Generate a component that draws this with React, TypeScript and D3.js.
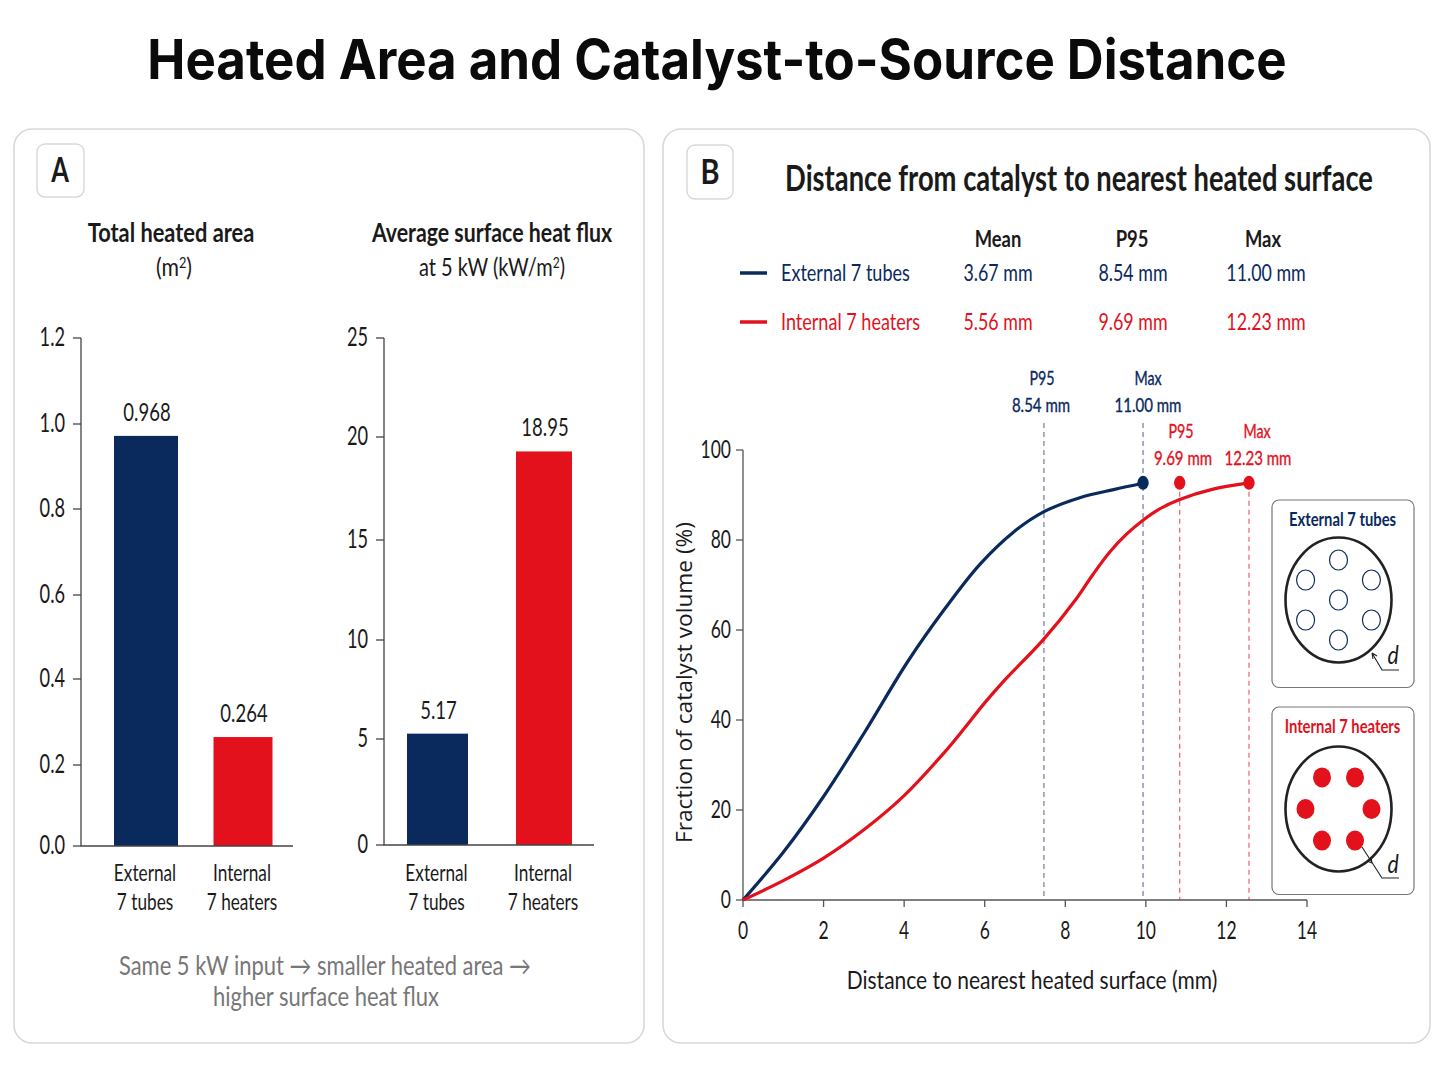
import * as d3 from "d3"

const NAVY = "#0a2a5e"
const RED = "#e2111b"
const INK = "#1a1a1a"
const FONT = "Lato, sans-serif"

// panel A
const barLabels = [["External", "7 tubes"], ["Internal", "7 heaters"]]
// heights as drawn in the picture, the printed numbers are in the *Text arrays
const areaValues = [0.972, 0.265]
const areaText = ["0.968", "0.264"]
const areaTicks = [0, 0.2, 0.4, 0.6, 0.8, 1.0, 1.2]
const fluxValues = [5.27, 19.3]
const fluxText = ["5.17", "18.95"]
const fluxTicks = [0, 5, 10, 15, 20, 25]
const barColors = [NAVY, RED]

// panel B
const summaryHeads = ["Mean", "P95", "Max"]
const externalSummary = ["3.67 mm", "8.54 mm", "11.00 mm"]
const internalSummary = ["5.56 mm", "9.69 mm", "12.23 mm"]
const xTicks = [0, 2, 4, 6, 8, 10, 12, 14]
const yTicks = [0, 20, 40, 60, 80, 100]
const externalCurve: [number, number][] = [
  [0, 0], [1, 10.6], [2, 23], [3, 37], [4.09, 53], [5.0, 64.6], [5.88, 74.6], [6.72, 81.8], [7.45, 86.2], [8.36, 89.4], [9.2, 91.2], [9.93, 92.6],
]
const internalCurve: [number, number][] = [
  [0, 0], [1, 4.3], [2, 9.3], [3, 15.6], [4, 23.2], [5, 32.8], [5.5, 38.2], [6, 43.8], [6.5, 48.9], [7.45, 57.8], [8.28, 67], [8.69, 72.4], [9.11, 77.4],
  [9.52, 81.3], [9.93, 84.4], [10.3, 86.7], [10.84, 89], [11.67, 91.3], [12.56, 92.7],
]
const externalMarkers = [
  { x: 7.47, top: 106, dot: false, head: "P95", text: "8.54 mm" },
  { x: 9.93, top: 106, dot: true, head: "Max", text: "11.00 mm" },
]
const internalMarkers = [
  { x: 10.84, top: 92.7, dot: true, head: "P95", text: "9.69 mm" },
  { x: 12.56, top: 92.7, dot: true, head: "Max", text: "12.23 mm" },
]
const tubeAngles = [90, 30, -30, -90, -150, 150]
const heaterAngles = [60, 0, -60, -120, 180, 120]

// condensed looking text, Lato squeezed horizontally
function T({ x, y, size, children, fill = INK, weight = 400, anchor = "middle", sx = 0.75, style, bold }: any) {
  return (
    <text transform={`translate(${x},${y}) scale(${sx},1)`} fontFamily={FONT} fontSize={size} fontWeight={weight}
      fill={fill} textAnchor={anchor} stroke={bold ? fill : "none"} strokeWidth={bold ? 0.35 : 0} style={style}>
      {children}
    </text>
  )
}

function BarChart({ axisX, endX, y, ticks, tickFormat, values, text, centers, widths, labelGap }: any) {
  const base = y(0)
  return (
    <g>
      {values.map((v: number, i: number) => (
        <g key={i}>
          <rect x={centers[i] - widths[i] / 2} y={y(v)} width={widths[i]} height={base - y(v)} fill={barColors[i]} />
          <T x={centers[i] + 1} y={y(v) - labelGap} size={25} sx={0.74}>{text[i]}</T>
          <T x={centers[i] - 1} y={881} size={23}>{barLabels[i][0]}</T>
          <T x={centers[i] - 1} y={910} size={23}>{barLabels[i][1]}</T>
        </g>
      ))}
      <path d={`M${axisX},${y.range()[y.range().length - 1]}V${base}H${endX}`} fill="none" stroke="#444" strokeWidth={1.3} />
      {ticks.map((t: number) => (
        <g key={t}>
          <line x1={axisX - 8} x2={axisX} y1={y(t)} y2={y(t)} stroke="#444" strokeWidth={1.3} />
          <T x={axisX - 16} y={y(t) + 8} size={26} anchor="end" sx={0.7}>{tickFormat(t)}</T>
        </g>
      ))}
    </g>
  )
}

function Inset({ y, cy, title, color, angles, radiusX, radiusY, filled, center, leader, dY }: any) {
  const cx = 1338.5
  return (
    <g>
      <rect x={1272} y={y} width={142} height={187.5} rx={7} fill="#fff" stroke="#777" strokeWidth={1.2} />
      <T x={1342.5} y={y + 26} size={19} weight={700} fill={color} sx={0.78}>{title}</T>
      <ellipse cx={cx} cy={cy} rx={53} ry={62.5} fill="none" stroke="#222" strokeWidth={2.6} />
      {center && <ellipse cx={cx} cy={cy} rx={9} ry={10} fill="#fff" stroke={NAVY} strokeWidth={1.2} />}
      {angles.map((a: number) => {
        const rad = (a * Math.PI) / 180
        return (
          <ellipse key={a} cx={cx + radiusX * Math.cos(rad)} cy={cy - radiusY * Math.sin(rad)} rx={9} ry={10}
            fill={filled ? RED : "#fff"} stroke={filled ? "none" : NAVY} strokeWidth={1.2} />
        )
      })}
      <path d={leader} fill="none" stroke="#222" strokeWidth={1.1} />
      <T x={1393} y={dY} size={25} sx={0.85} style={{ fontStyle: "italic" }}>d</T>
    </g>
  )
}

export default function App() {
  const areaY = d3.scaleLinear().domain(areaTicks).range([846, 765, 679, 595, 509, 424, 338])
  const fluxY = d3.scaleLinear().domain(fluxTicks).range([845, 739, 640, 540, 437, 338])
  const x = d3.scaleLinear().domain([0, 14]).range([743, 1307])
  const y = d3.scaleLinear().domain([0, 100]).range([900, 450])
  const line = d3.line<[number, number]>().x((d) => x(d[0])).y((d) => y(d[1])).curve(d3.curveCatmullRom.alpha(0.5))

  return (
    <svg width={1448} height={1086} style={{ position: "absolute", left: 0, top: 0, background: "#fff" }}>
      <text transform="translate(717,79) scale(0.927,1)" textAnchor="middle" fontFamily="Inter, sans-serif" fontWeight={700} fontSize={55} fill="#0a0a0a">
        Heated Area and Catalyst-to-Source Distance
      </text>

      {/* panel A */}
      <rect x={14} y={129} width={630} height={914} rx={18} fill="#fff" stroke="#d6d9dc" strokeWidth={1.6} />
      <rect x={37} y={144} width={47} height={53} rx={8} fill="#fff" stroke="#d6d9dc" strokeWidth={1.4} />
      <T x={60} y={182} size={34} weight={700} sx={0.75}>A</T>

      <T x={171} y={242} size={26} weight={700} sx={0.84}>Total heated area</T>
      <T x={174} y={276} size={25} sx={0.85}>(m<tspan dy={-8} fontSize={15}>2</tspan><tspan dy={8}>)</tspan></T>
      <T x={492} y={242} size={26} weight={700} sx={0.82}>Average surface heat flux</T>
      <T x={492} y={276} size={25} sx={0.8}>at 5 kW (kW/m<tspan dy={-8} fontSize={15}>2</tspan><tspan dy={8}>)</tspan></T>

      <BarChart axisX={81} endX={293} y={areaY} ticks={areaTicks} tickFormat={(t: number) => t.toFixed(1)}
        values={areaValues} text={areaText} centers={[146, 243]} widths={[64, 59]} labelGap={15} />
      <BarChart axisX={384} endX={594} y={fluxY} ticks={fluxTicks} tickFormat={(t: number) => String(t)}
        values={fluxValues} text={fluxText} centers={[437.5, 544]} widths={[61, 56]} labelGap={15} />

      <T x={325} y={975} size={26} fill="#777" sx={0.845}>Same 5 kW input → smaller heated area →</T>
      <T x={326} y={1006} size={26} fill="#777" sx={0.845}>higher surface heat flux</T>

      {/* panel B */}
      <rect x={663} y={129} width={767} height={914} rx={18} fill="#fff" stroke="#d6d9dc" strokeWidth={1.6} />
      <rect x={687} y={145} width={46} height={54} rx={8} fill="#fff" stroke="#d6d9dc" strokeWidth={1.4} />
      <T x={710} y={184} size={34} weight={700} sx={0.85}>B</T>
      <T x={1079} y={191} size={36} weight={700} sx={0.76}>Distance from catalyst to nearest heated surface</T>

      {summaryHeads.map((h, i) => (
        <T key={h} x={[998, 1132, 1263][i]} y={247} size={23} weight={700} sx={0.8}>{h}</T>
      ))}
      <line x1={740} x2={767} y1={273} y2={273} stroke={NAVY} strokeWidth={3.5} />
      <T x={781} y={281} size={23} anchor="start" fill={NAVY} sx={0.785}>External 7 tubes</T>
      <line x1={740} x2={767} y1={322} y2={322} stroke={RED} strokeWidth={3.5} />
      <T x={781} y={330} size={23} anchor="start" fill={RED} sx={0.785}>Internal 7 heaters</T>
      {externalSummary.map((s, i) => (
        <T key={s} x={[998, 1133, 1266][i]} y={281} size={23} fill={NAVY} sx={0.775}>{s}</T>
      ))}
      {internalSummary.map((s, i) => (
        <T key={s} x={[998, 1133, 1266][i]} y={330} size={23} fill={RED} sx={0.775}>{s}</T>
      ))}

      {/* marker lines sit under the curves */}
      {externalMarkers.map((m) => (
        <line key={m.head} x1={x(m.x)} x2={x(m.x)} y1={y(m.top)} y2={y(0)} stroke="#6f7d98" strokeWidth={1.2} strokeDasharray="5 4" />
      ))}
      {internalMarkers.map((m) => (
        <line key={m.head} x1={x(m.x)} x2={x(m.x)} y1={y(m.top)} y2={y(0)} stroke="#ee5f6c" strokeWidth={1.2} strokeDasharray="5 4" />
      ))}

      <path d={`M743,450V900H1307`} fill="none" stroke="#555" strokeWidth={1.3} />
      {yTicks.map((t) => (
        <g key={t}>
          <line x1={736} x2={743} y1={y(t)} y2={y(t)} stroke="#555" strokeWidth={1.3} />
          <T x={731} y={y(t) + 8} size={25} anchor="end" sx={0.7}>{t}</T>
        </g>
      ))}
      {xTicks.map((t) => (
        <g key={t}>
          <line x1={x(t)} x2={x(t)} y1={900} y2={907} stroke="#555" strokeWidth={1.3} />
          <T x={x(t)} y={939} size={25} sx={0.7}>{t}</T>
        </g>
      ))}
      <T x={1032} y={989} size={25} sx={0.84}>Distance to nearest heated surface (mm)</T>
      <text transform="translate(692,682.5) rotate(-90) scale(1.08,1)" textAnchor="middle" fontFamily="'Open Sans', sans-serif" fontSize={21} fill={INK}>
        Fraction of catalyst volume (%)
      </text>

      <path d={line(externalCurve) ?? ""} fill="none" stroke={NAVY} strokeWidth={3.2} />
      <path d={line(internalCurve) ?? ""} fill="none" stroke={RED} strokeWidth={3.2} />

      {externalMarkers.filter((m) => m.dot).map((m) => (
        <ellipse key={m.head} cx={x(m.x)} cy={y(92.7)} rx={5.7} ry={7} fill={NAVY} />
      ))}
      {internalMarkers.filter((m) => m.dot).map((m) => (
        <ellipse key={m.head} cx={x(m.x)} cy={y(92.7)} rx={5.7} ry={7} fill={RED} />
      ))}

      {externalMarkers.map((m, i) => (
        <g key={m.head}>
          <T x={[1042, 1148][i]} y={385} size={19} fill={NAVY} bold>{m.head}</T>
          <T x={[1041, 1148][i]} y={412} size={19} fill={NAVY} bold sx={0.79}>{m.text}</T>
        </g>
      ))}
      {internalMarkers.map((m, i) => (
        <g key={m.head}>
          <T x={[1181, 1257][i]} y={438} size={19} fill={RED} bold>{m.head}</T>
          <T x={[1183, 1258][i]} y={465} size={19} fill={RED} bold sx={0.79}>{m.text}</T>
        </g>
      ))}

      <Inset y={500} cy={600} title="External 7 tubes" color={NAVY} angles={tubeAngles} radiusX={38} radiusY={40} center
        leader="M1372,653L1382,670H1399M1372,653l1,6M1372,653l5,3" dY={664} />
      <Inset y={707} cy={809} title="Internal 7 heaters" color={RED} angles={heaterAngles} radiusX={33} radiusY={36.5} filled
        leader="M1362,847L1382,878H1399M1372,863l-5,-2M1372,863l-1,-6" dY={873} />
    </svg>
  )
}
